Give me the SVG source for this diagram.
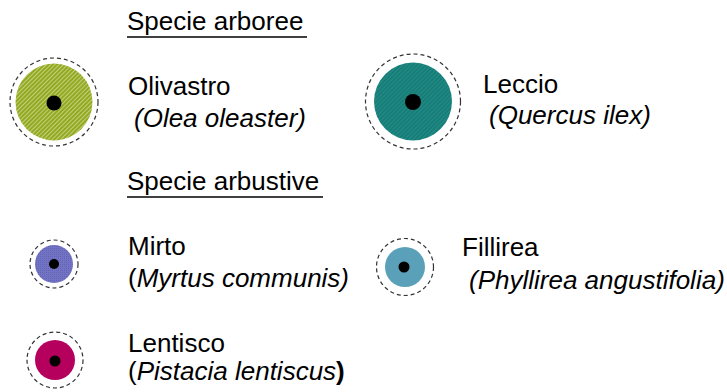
<svg xmlns="http://www.w3.org/2000/svg" width="727" height="392" viewBox="0 0 727 392">
<defs>
<pattern id="hOlive" patternUnits="userSpaceOnUse" width="3" height="3" patternTransform="rotate(-45)">
<rect width="3" height="3" fill="#93a922"/>
<rect width="3" height="0.7" fill="#d6e2a0"/>
</pattern>
<pattern id="hTeal" patternUnits="userSpaceOnUse" width="3" height="3" patternTransform="rotate(-45)">
<rect width="3" height="3" fill="#157e79"/>
<rect width="3" height="0.5" fill="#3a9691"/>
</pattern>
<pattern id="hPurple" patternUnits="userSpaceOnUse" width="2" height="2">
<rect width="2" height="2" fill="#7373c4"/>
<rect width="1" height="1" fill="#6464b6"/>
</pattern>
</defs>
<style>
.ring{fill:none;stroke:#333;stroke-width:1.2;stroke-dasharray:4 3}
.dot{fill:#000}
text{font-family:"Liberation Sans",Arial,sans-serif;font-size:26px;fill:#000}
.it{font-style:italic}
.ul{stroke:#000;stroke-width:1.5}
</style>
<g id="title-arboree">
<text x="127" y="30">Specie arboree</text>
<line class="ul" x1="127" y1="37" x2="307" y2="37"/>
</g>
<g id="olivastro">
<circle class="ring" cx="54" cy="102" r="44"/>
<circle cx="54" cy="102" r="38.5" fill="url(#hOlive)"/>
<circle class="dot" cx="54" cy="103" r="7.5"/>
<text x="128" y="95">Olivastro</text>
<text class="it" x="134" y="127">(Olea oleaster)</text>
</g>
<g id="leccio">
<circle class="ring" cx="413" cy="101.5" r="47.5"/>
<circle cx="413" cy="101.5" r="39" fill="url(#hTeal)"/>
<circle class="dot" cx="413" cy="102" r="8"/>
<text x="483" y="93">Leccio</text>
<text class="it" x="489" y="124">(Quercus ilex)</text>
</g>
<g id="title-arbustive">
<text x="127" y="190">Specie arbustive</text>
<line class="ul" x1="127" y1="197" x2="323" y2="197"/>
</g>
<g id="mirto">
<circle class="ring" cx="54" cy="264" r="24"/>
<circle cx="54" cy="264" r="19" fill="url(#hPurple)"/>
<circle class="dot" cx="54" cy="264" r="5"/>
<text x="128" y="255">Mirto</text>
<text x="128" y="287">(<tspan class="it">Myrtus communis)</tspan></text>
</g>
<g id="fillirea">
<circle class="ring" cx="405" cy="267" r="28.5"/>
<circle cx="405" cy="267" r="20" fill="#5ba0b9"/>
<circle class="dot" cx="404" cy="267" r="5.5"/>
<text x="462" y="256">Fillirea</text>
<text class="it" x="469" y="289">(Phyllirea angustifolia)</text>
</g>
<g id="lentisco">
<circle class="ring" cx="55" cy="360" r="28"/>
<circle cx="55" cy="360" r="20" fill="#b5005d"/>
<circle class="dot" cx="55" cy="361" r="5.5"/>
<text x="128" y="352">Lentisco</text>
<text x="128" y="380">(<tspan class="it">Pistacia lentiscus</tspan><tspan font-weight="bold">)</tspan></text>
</g>
<g id="connectors"/>
</svg>
